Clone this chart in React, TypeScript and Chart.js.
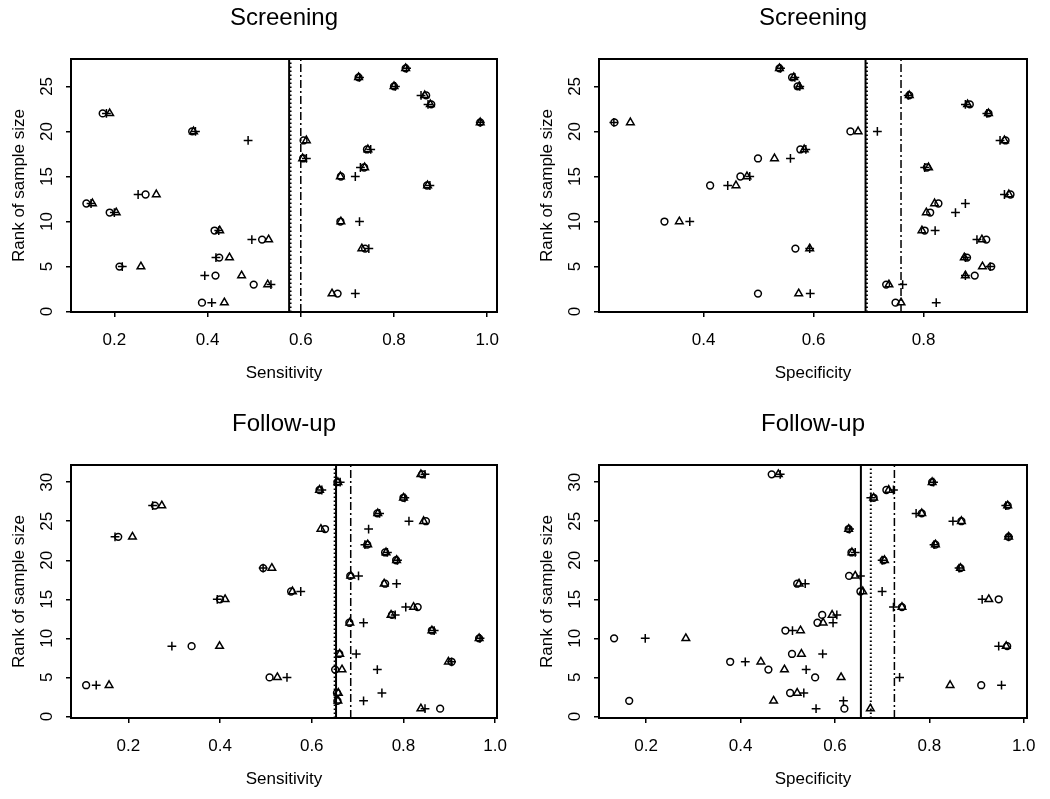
import React, { useEffect, useRef } from 'react';
import { Chart, registerables } from 'chart.js';

Chart.register(...registerables);

const FONT = "'Liberation Sans', Arial, Helvetica, sans-serif";
Chart.defaults.font.family = FONT;
Chart.defaults.color = '#000';

// ---- ranks (y categories) ----
const ranksScreening = [1, 2, 3, 4, 5, 6, 7, 8, 9, 10, 11, 12, 13, 14, 15, 16, 17, 18, 19, 20, 21, 22, 23, 24, 25, 26, 27];
const ranksFollowUp = [1, 2, 3, 4, 5, 6, 7, 8, 9, 10, 11, 12, 13, 14, 15, 16, 17, 18, 19, 20, 21, 22, 23, 24, 25, 26, 27, 28, 29, 30, 31];

// ---- Screening, sensitivity ----
const screenSensCircle = [0.388, 0.679, 0.499, 0.417, 0.211, 0.425, 0.738, 0.517, 0.415, 0.685, 0.190, 0.140, 0.267, 0.871, 0.686, 0.736, 0.605, 0.742, 0.606, 0.367, 0.985, 0.175, 0.880, 0.869, 0.800, 0.724, 0.825];
const screenSensTriangle = [0.436, 0.667, 0.529, 0.473, 0.257, 0.447, 0.731, 0.531, 0.426, 0.686, 0.204, 0.153, 0.290, 0.872, 0.685, 0.737, 0.604, 0.744, 0.612, 0.370, 0.985, 0.190, 0.878, 0.866, 0.800, 0.724, 0.825];
const screenSensPlus = [0.409, 0.717, 0.536, 0.394, 0.217, 0.418, 0.746, 0.495, 0.424, 0.726, 0.200, 0.150, 0.251, 0.877, 0.717, 0.728, 0.612, 0.750, 0.487, 0.374, 0.985, 0.183, 0.873, 0.858, 0.803, 0.726, 0.827];
const screenSensLines = [0.575, 0.578, 0.600]; // solid, dotted, dash-dot

// ---- Screening, specificity ----
const screenSpecCircle = [0.749, 0.499, 0.732, 0.893, 0.923, 0.879, 0.567, 0.914, 0.802, 0.329, 0.812, 0.827, 0.958, 0.412, 0.467, 0.806, 0.499, 0.576, 0.949, 0.667, 0.238, 0.918, 0.884, 0.774, 0.571, 0.561, 0.538];
const screenSpecTriangle = [0.759, 0.573, 0.737, 0.876, 0.907, 0.874, 0.593, 0.906, 0.797, 0.356, 0.805, 0.820, 0.955, 0.459, 0.479, 0.809, 0.529, 0.583, 0.947, 0.681, 0.267, 0.918, 0.880, 0.774, 0.574, 0.564, 0.538];
const screenSpecPlus = [0.823, 0.594, 0.762, 0.876, 0.921, 0.876, 0.593, 0.897, 0.821, 0.375, 0.858, 0.876, 0.947, 0.444, 0.484, 0.802, 0.558, 0.586, 0.939, 0.716, 0.237, 0.915, 0.876, 0.772, 0.575, 0.566, 0.540];
const screenSpecLines = [0.6945, 0.697, 0.759];

// ---- Follow-up, sensitivity ----
const followSensCircle = [0.880, 0.656, 0.655, 0.108, 0.508, 0.651, 0.905, 0.660, 0.338, 0.965, 0.862, 0.682, 0.775, 0.831, 0.400, 0.555, 0.760, 0.684, 0.494, 0.784, 0.760, 0.721, 0.178, 0.629, 0.849, 0.743, 0.258, 0.800, 0.617, 0.656, 0.841];
const followSensTriangle = [0.838, 0.657, 0.658, 0.158, 0.525, 0.666, 0.898, 0.661, 0.399, 0.965, 0.862, 0.683, 0.773, 0.822, 0.411, 0.558, 0.758, 0.685, 0.513, 0.785, 0.762, 0.722, 0.209, 0.620, 0.844, 0.744, 0.273, 0.800, 0.617, 0.657, 0.838];
const followSensPlus = [0.847, 0.713, 0.753, 0.130, 0.546, 0.743, 0.905, 0.697, 0.295, 0.967, 0.867, 0.713, 0.782, 0.805, 0.394, 0.576, 0.785, 0.702, 0.494, 0.787, 0.765, 0.716, 0.171, 0.724, 0.812, 0.748, 0.253, 0.803, 0.622, 0.662, 0.847];
const followSensLines = [0.653, 0.650, 0.685];

// ---- Follow-up, specificity ----
const followSpecCircle = [0.620, 0.164, 0.505, 0.910, 0.558, 0.459, 0.378, 0.509, 0.965, 0.132, 0.495, 0.563, 0.573, 0.742, 0.947, 0.654, 0.520, 0.630, 0.866, 0.703, 0.635, 0.813, 0.968, 0.629, 0.868, 0.784, 0.966, 0.682, 0.709, 0.806, 0.466];
const followSpecTriangle = [0.675, 0.470, 0.520, 0.844, 0.613, 0.493, 0.443, 0.529, 0.963, 0.284, 0.527, 0.575, 0.594, 0.742, 0.926, 0.659, 0.524, 0.643, 0.866, 0.705, 0.636, 0.813, 0.968, 0.629, 0.868, 0.784, 0.966, 0.682, 0.714, 0.806, 0.480];
const followSpecPlus = [0.560, 0.618, 0.534, 0.953, 0.737, 0.539, 0.410, 0.574, 0.947, 0.198, 0.510, 0.596, 0.604, 0.724, 0.912, 0.700, 0.537, 0.654, 0.863, 0.700, 0.643, 0.810, 0.968, 0.631, 0.850, 0.772, 0.962, 0.676, 0.724, 0.809, 0.484];
const followSpecLines = [0.655, 0.676, 0.726];

// ---- tick labels ----
const xTicksScreenSens = [0.2, 0.4, 0.6, 0.8, 1.0];
const xTicksScreenSpec = [0.4, 0.6, 0.8];
const xTicksFollow = [0.2, 0.4, 0.6, 0.8, 1.0];
const yTicksScreening = [0, 5, 10, 15, 20, 25];
const yTicksFollowUp = [0, 5, 10, 15, 20, 25, 30];

type PanelSpec = {
  title: string;
  xLabel: string;
  ranks: number[];
  circle: number[];
  triangle: number[];
  plus: number[];
  lines: number[];
  xTicks: number[];
  yTicks: number[];
  xMin: number;
  xMax: number;
  yMin: number;
  yMax: number;
  left: number;
  top: number;
  width: number;
  height: number;
  padRight: number;
};

const panels: PanelSpec[] = [
  {
    title: 'Screening', xLabel: 'Sensitivity', ranks: ranksScreening,
    circle: screenSensCircle, triangle: screenSensTriangle, plus: screenSensPlus, lines: screenSensLines,
    xTicks: xTicksScreenSens, yTicks: yTicksScreening,
    xMin: 0.107, xMax: 1.021, yMin: -0.04, yMax: 28.04,
    left: 0, top: 0, width: 525, height: 393, padRight: 28,
  },
  {
    title: 'Screening', xLabel: 'Specificity', ranks: ranksScreening,
    circle: screenSpecCircle, triangle: screenSpecTriangle, plus: screenSpecPlus, lines: screenSpecLines,
    xTicks: xTicksScreenSpec, yTicks: yTicksScreening,
    xMin: 0.210, xMax: 0.988, yMin: -0.04, yMax: 28.04,
    left: 528, top: 0, width: 522, height: 393, padRight: 23,
  },
  {
    title: 'Follow-up', xLabel: 'Sensitivity', ranks: ranksFollowUp,
    circle: followSensCircle, triangle: followSensTriangle, plus: followSensPlus, lines: followSensLines,
    xTicks: xTicksFollow, yTicks: yTicksFollowUp,
    xMin: 0.075, xMax: 1.004, yMin: -0.2, yMax: 32.2,
    left: 0, top: 406, width: 525, height: 393, padRight: 28,
  },
  {
    title: 'Follow-up', xLabel: 'Specificity', ranks: ranksFollowUp,
    circle: followSpecCircle, triangle: followSpecTriangle, plus: followSpecPlus, lines: followSpecLines,
    xTicks: xTicksFollow, yTicks: yTicksFollowUp,
    xMin: 0.100, xMax: 1.007, yMin: -0.2, yMax: 32.2,
    left: 528, top: 406, width: 522, height: 393, padRight: 23,
  },
];

const boxPlugin = {
  id: 'plotBox',
  afterDraw(chart: any) {
    const { ctx, chartArea: a } = chart;
    ctx.save();
    ctx.strokeStyle = '#000';
    ctx.lineWidth = 2;
    ctx.strokeRect(a.left, a.top, a.right - a.left, a.bottom - a.top);
    ctx.restore();
  },
};

function buildConfig(p: PanelSpec): any {
  const pts = (vals: number[]) => vals.map((v, i) => ({ x: v, y: p.ranks[i] }));
  const marker = {
    showLine: false,
    borderColor: '#000',
    backgroundColor: 'rgba(0,0,0,0)',
    pointBorderColor: '#000',
    pointBackgroundColor: 'rgba(0,0,0,0)',
    pointBorderWidth: 1.5,
    pointHoverRadius: 0,
  };
  const vline = (x: number, dash: number[], width: number) => ({
    data: [{ x, y: p.yMin }, { x, y: p.yMax }],
    showLine: true,
    pointRadius: 0,
    pointHoverRadius: 0,
    borderColor: '#000',
    borderWidth: width,
    borderDash: dash,
    fill: false,
  });
  const gridOpts = {
    display: true,
    drawOnChartArea: false,
    drawTicks: true,
    tickLength: 5,
    color: '#000',
    lineWidth: 1.5,
  };
  const tickFont = { family: FONT, size: 17 };
  return {
    type: 'scatter',
    data: {
      datasets: [
        { ...marker, data: pts(p.plus), pointStyle: 'cross', pointRadius: 4.4 },
        { ...marker, data: pts(p.triangle), pointStyle: 'triangle', pointRadius: 4.4 },
        { ...marker, data: pts(p.circle), pointStyle: 'circle', pointRadius: 3.4 },
        vline(p.lines[0], [], 2),
        vline(p.lines[1], [1.5, 2.5], 2),
        vline(p.lines[2], [8, 3, 2, 3], 1.5),
      ],
    },
    options: {
      responsive: false,
      animation: false,
      devicePixelRatio: 1,
      events: [],
      layout: { padding: { left: 0, top: 0, right: p.padRight, bottom: 1 } },
      plugins: {
        legend: { display: false },
        tooltip: { enabled: false },
        title: {
          display: true,
          text: p.title,
          fullSize: false,
          color: '#000',
          font: { family: FONT, size: 24, weight: 'normal', lineHeight: 1.2 },
          padding: { top: 4, bottom: 26.2 },
        },
      },
      scales: {
        x: {
          type: 'linear',
          position: 'bottom',
          min: p.xMin,
          max: p.xMax,
          afterBuildTicks: (s: any) => { s.ticks = p.xTicks.map((v) => ({ value: v })); },
          afterFit: (s: any) => { s.height = 80; },
          grid: gridOpts,
          border: { display: false },
          ticks: {
            color: '#000', font: tickFont, padding: 13, maxRotation: 0, minRotation: 0, autoSkip: false,
            callback: (v: any) => Number(v).toFixed(1),
          },
          title: {
            display: true, text: p.xLabel, color: '#000', font: { family: FONT, size: 17, lineHeight: 1.2 },
            padding: { top: 0, bottom: 8.8 },
          },
        },
        y: {
          type: 'linear',
          position: 'left',
          min: p.yMin,
          max: p.yMax,
          afterBuildTicks: (s: any) => { s.ticks = p.yTicks.map((v) => ({ value: v })); },
          afterFit: (s: any) => { s.width = 71; },
          grid: gridOpts,
          border: { display: false },
          ticks: {
            color: '#000', font: tickFont, padding: 9, minRotation: 90, maxRotation: 90,
            crossAlign: 'center', autoSkip: false,
            callback: (v: any) => String(v),
          },
          title: {
            display: true, text: 'Rank of sample size', color: '#000', font: { family: FONT, size: 17, lineHeight: 1.2 },
            padding: { top: 8.9, bottom: 0 },
          },
        },
      },
    },
    plugins: [boxPlugin],
  };
}

function Panel({ p }: { p: PanelSpec }) {
  const ref = useRef<HTMLCanvasElement | null>(null);
  useEffect(() => {
    if (!ref.current) return;
    const chart = new Chart(ref.current, buildConfig(p));
    return () => chart.destroy();
  }, [p]);
  return (
    <canvas
      ref={ref}
      width={p.width}
      height={p.height}
      style={{ position: 'absolute', left: p.left, top: p.top, width: p.width, height: p.height }}
    />
  );
}

export default function App() {
  return (
    <div
      style={{
        position: 'absolute', left: 0, top: 0, width: 1050, height: 799,
        background: '#fff', overflow: 'hidden',
      }}
    >
      {panels.map((p, i) => (
        <Panel key={i} p={p} />
      ))}
    </div>
  );
}
